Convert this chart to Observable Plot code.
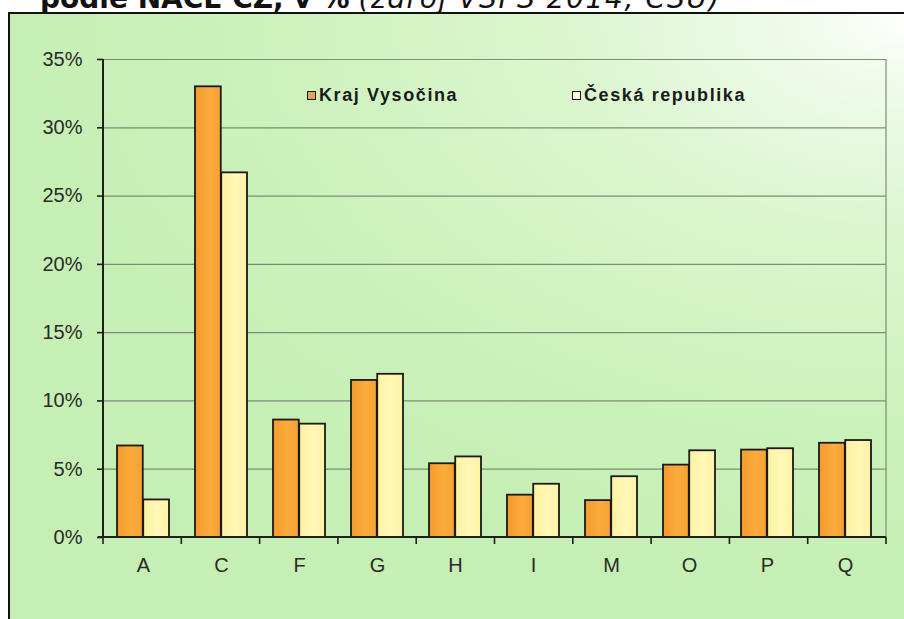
<!DOCTYPE html>
<html>
<head>
<meta charset="utf-8">
<script src="https://cdn.jsdelivr.net/npm/d3@7"></script>
<script src="https://cdn.jsdelivr.net/npm/@observablehq/plot@0.6"></script>
<style>
  html, body { margin: 0; padding: 0; background: #ffffff; }
  #wrap { position: relative; width: 904px; height: 619px; overflow: hidden; }
  #title { position: absolute; left: 40px; top: -15px; font-family: "DejaVu Sans", Verdana, sans-serif; font-size: 28px; line-height: 28px; color: #111; white-space: nowrap; z-index: 0; }
  #title b { font-weight: bold; }
  #title i { font-style: oblique; font-weight: normal; letter-spacing: 1.6px; }
  #frame { position: absolute; left: 8px; top: 12px; width: 900px; height: 610px; border-top: 2px solid #111; border-left: 2px solid #111;
    background: radial-gradient(ellipse 120% 110% at 100% 0%, #ffffff 0%, #f0fbeb 10%, #dbf6cf 32%, #cdf2bd 58%, #c6efb3 85%); z-index: 1; }
  #chart { position: absolute; left: 0; top: 0; z-index: 2; }
  #chart svg { background: transparent !important; overflow: visible; }
  .leg { position: absolute; z-index: 3; font-family: "Liberation Sans", Arial, sans-serif; font-weight: bold; font-size: 18px; letter-spacing: 1.6px; color: #1a1a1a; white-space: nowrap; display: flex; align-items: center; }
  .sw { display: inline-block; width: 7px; height: 7px; border: 1.5px solid #1a1a1a; margin-right: 3px; }
</style>
</head>
<body>
<div id="wrap">
  <div id="title"><b>podle NACE CZ, v %</b> <i>(zdroj VŠPS 2014, ČSÚ)</i></div>
  <div id="frame"></div>
  <div id="chart"></div>
  <div class="leg" id="leg1" style="left:307px; top:85px;"><span class="sw" style="background:#e3a55e"></span>Kraj Vysočina</div>
  <div class="leg" id="leg2" style="left:572px; top:85px;"><span class="sw" style="background:#fffbe6"></span>Česká republika</div>
</div>
<script>
const categories = ["A", "C", "F", "G", "H", "I", "M", "O", "P", "Q"];
const seriesNames = ["Kraj Vysočina", "Česká republika"];
const krajVysocina = [6.7, 33.0, 8.6, 11.5, 5.4, 3.1, 2.7, 5.3, 6.4, 6.9];
const ceskaRepublika = [2.75, 26.7, 8.3, 11.95, 5.9, 3.9, 4.45, 6.35, 6.5, 7.1];
const yTicks = [0, 5, 10, 15, 20, 25, 30, 35];

const colors = ["#f9a435", "#fff4a8"];

const data = categories.map((c, i) => ({cat: c, kraj: krajVysocina[i], cr: ceskaRepublika[i]}));

const W = 904, H = 619, ML = 103, MR = 18, MT = 59, MB = 82;
const P = 0.33;
const step = (W - ML - MR) / categories.length;
const halfBand = step * (1 - P) / 2;

const axisColor = "#1e1e1e";
const gridColor = "#7d8c76";
const textColor = "#2a2a2a";

function gradients() {
  const g = d3.create("svg:defs");
  const o = g.append("linearGradient").attr("id", "gOrange").attr("x1", 0).attr("x2", 1).attr("y1", 0).attr("y2", 0);
  o.append("stop").attr("offset", "0%").attr("stop-color", "#f59a2c");
  o.append("stop").attr("offset", "55%").attr("stop-color", "#fbab3e");
  o.append("stop").attr("offset", "100%").attr("stop-color", "#f7a232");
  const y = g.append("linearGradient").attr("id", "gYellow").attr("x1", 0).attr("x2", 1).attr("y1", 0).attr("y2", 0);
  y.append("stop").attr("offset", "0%").attr("stop-color", "#fff2a0");
  y.append("stop").attr("offset", "55%").attr("stop-color", "#fff7b8");
  y.append("stop").attr("offset", "100%").attr("stop-color", "#fff2a4");
  return g.node();
}

function frameAndTicks(index, scales, values, dims) {
  const g = d3.create("svg:g");
  const left = dims.marginLeft, right = dims.width - dims.marginRight;
  const top = dims.marginTop, bottom = dims.height - dims.marginBottom;
  g.append("line").attr("x1", right).attr("x2", right).attr("y1", top).attr("y2", bottom)
    .attr("stroke", gridColor).attr("stroke-width", 1.2);
  g.append("line").attr("x1", left).attr("x2", left).attr("y1", top).attr("y2", bottom)
    .attr("stroke", axisColor).attr("stroke-width", 2);
  g.append("line").attr("x1", left - 5).attr("x2", right).attr("y1", bottom).attr("y2", bottom)
    .attr("stroke", axisColor).attr("stroke-width", 2);
  const n = categories.length;
  for (let k = 0; k <= n; k++) {
    const x = left + k * (right - left) / n;
    g.append("line").attr("x1", x).attr("x2", x).attr("y1", bottom).attr("y2", bottom + 7)
      .attr("stroke", axisColor).attr("stroke-width", 1.6);
  }
  return g.node();
}

const chart = Plot.plot({
  width: W, height: H,
  marginLeft: ML, marginRight: MR, marginTop: MT, marginBottom: MB,
  style: {background: "transparent", fontFamily: "'Liberation Sans', Arial, sans-serif"},
  x: {domain: categories, paddingInner: P, paddingOuter: P / 2, label: null},
  y: {domain: [0, 35], label: null},
  marks: [
    gradients,
    Plot.gridY(yTicks, {stroke: gridColor, strokeOpacity: 1, strokeWidth: 1.2}),
    Plot.axisY(yTicks, {tickFormat: d => d + "%", tickSize: 6, tickPadding: 15, fontSize: 20, color: textColor, stroke: axisColor, strokeWidth: 1.6, label: null}),
    Plot.axisX({tickSize: 0, tickPadding: 20, fontSize: 20, color: textColor, label: null}),
    Plot.barY(data, {x: "cat", y: "kraj", fill: "url(#gOrange)", stroke: "#1a1a1a", strokeWidth: 1.8, insetRight: halfBand}),
    Plot.barY(data, {x: "cat", y: "cr", fill: "url(#gYellow)", stroke: "#1a1a1a", strokeWidth: 1.8, insetLeft: halfBand}),
    frameAndTicks
  ]
});
document.getElementById("chart").appendChild(chart);
</script>
</body>
</html>
